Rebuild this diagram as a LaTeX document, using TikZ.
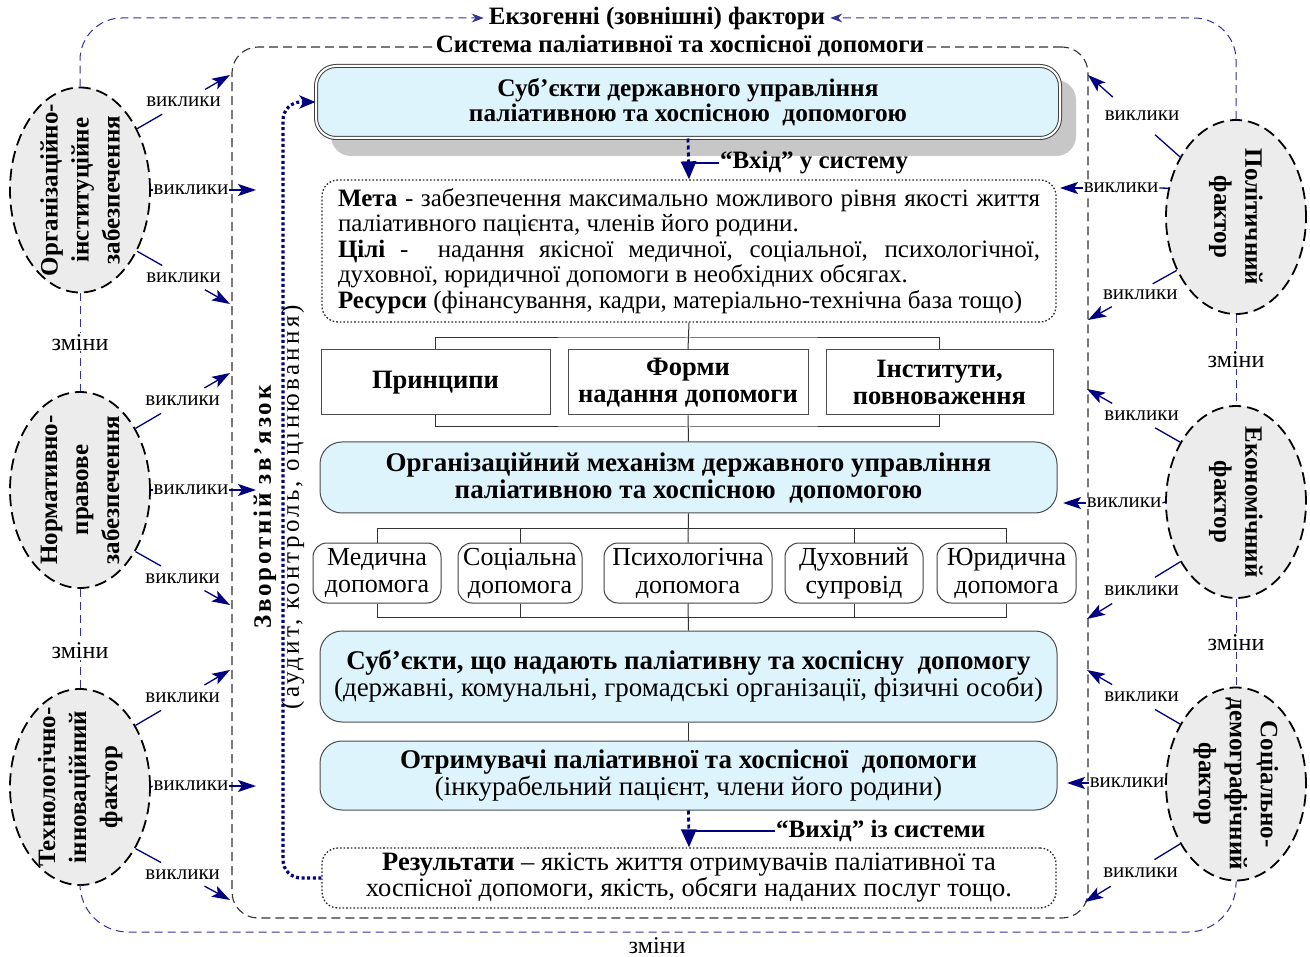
\documentclass[tikz,border=0pt]{standalone}
\usepackage{fontspec}
\setmainfont{Liberation Serif}
\usetikzlibrary{arrows.meta,shapes.geometric,calc}
\definecolor{navy}{RGB}{0,0,128}
\definecolor{dblue}{RGB}{50,50,150}
\definecolor{lblue}{RGB}{222,244,253}
\definecolor{egray}{RGB}{236,236,236}
\newcommand\fsz[2]{\fontsize{#1}{#2}\selectfont}
\newcommand\vkDiag[4][]{%
  \draw[vline] (#2) -- ($(#2)!0.27!(#3)$);
  \draw[varrow] ($(#2)!0.73!(#3)$) -- (#3);
  \node[vk,#1] (#4) at ($(#2)!0.5!(#3)$) {виклики};}
\begin{document}
\begin{tikzpicture}[x=1pt,y=-1pt,
  ell/.style={ellipse, draw=black, fill=egray, line width=1.8pt, dash pattern=on 12pt off 6pt, minimum width=140pt, minimum height=200pt, inner sep=0pt},
  elltext/.style={font=\fsz{25}{31}\bfseries, align=center, inner sep=0pt},
  vk/.style={font=\fsz{21}{23}, fill=white, inner sep=1pt},
  zm/.style={font=\fsz{24}{26}, fill=white, inner sep=1pt},
  vline/.style={draw=navy, line width=1.3pt},
  varrow/.style={vline, -{Stealth[length=18pt,width=12pt,inset=4pt]}},
  exodash/.style={draw=dblue, line width=1pt, dash pattern=on 8pt off 5pt},
  sysframe/.style={draw=black!80, line width=1.1pt, dash pattern=on 9pt off 5pt, rounded corners=26pt},
  bluebox/.style={draw=black!70, line width=1pt, fill=lblue, rounded corners=22pt, align=center, font=\fsz{27}{27}},
  rectbox/.style={draw=black!70, line width=1pt, font=\fsz{26.5}{27}\bfseries, align=center, fill=white},
  smallbox/.style={draw=black!75, line width=1pt, rounded corners=14pt, align=center, font=\fsz{26}{28}, inner sep=1pt},
  dotbox/.style={draw=black!85, line width=1.3pt, dash pattern=on 1.6pt off 2pt, rounded corners=16pt},
  conn/.style={draw=black!80, line width=1pt},
  ioarrow/.style={draw=navy, line width=2.8pt, dash pattern=on 4pt off 3pt, -{Triangle[length=18pt,width=15pt]}},
  ioline/.style={draw=navy, line width=1.4pt},
  fbline/.style={draw=navy, line width=3.2pt, dash pattern=on 3pt off 2.6pt, rounded corners=18pt},
  boldlbl/.style={font=\fsz{25}{25}\bfseries, inner sep=1pt}
]
\useasboundingbox (0,0) rectangle (1310,957);

% ---------- system frame
\node[sysframe, minimum width=856pt, minimum height=871pt] (sys) at (660,482.5) {};
\node[boldlbl, fill=white, inner xsep=2pt] (systitle) at (680,46) {Система паліативної та хоспісної допомоги};

% ---------- exogenous factors title
\node[boldlbl] (exo) at (657,18) {Екзогенні (зовнішні) фактори};

% ---------- left ellipses
\node[ell, minimum height=205pt] (L1) at (80,190) {};
\node[elltext, rotate=90] (L1t) at (L1) {Організаційно-\\інституційне\\забезпечення};
\node[ell, minimum height=196pt] (L2) at (80,490) {};
\node[elltext, rotate=90] (L2t) at (L2) {Нормативно-\\правове\\забезпечення};
\node[ell, minimum height=196pt] (L3) at (80,787) {};
\node[elltext, rotate=90] (L3t) at (L3) {Технологічно-\\інноваційний\\фактор};

% ---------- right ellipses
\node[ell, minimum height=194pt] (R1) at (1236,217) {};
\node[elltext, rotate=-90] (R1t) at (R1) {Політичний\\фактор};
\node[ell, minimum height=192pt] (R2) at (1236,502) {};
\node[elltext, rotate=-90] (R2t) at (R2) {Економічний\\фактор};
\node[ell, minimum height=193pt] (R3) at (1236,784) {};
\node[elltext, rotate=-90] (R3t) at (R3) {Соціально-\\демографічний\\фактор};

% ---------- outer dashed links
\draw[exodash, rounded corners=42pt, -{Stealth[length=12pt,width=9pt]}, shorten >=4pt] (L1.north) |- (exo.west);
\draw[exodash, rounded corners=42pt, -{Stealth[length=12pt,width=9pt]}, shorten >=4pt] (R1.north) |- (exo.east);
\coordinate (botc) at (657,932);
\draw[exodash, rounded corners=48pt] (L3.south) |- (botc) -| (R3.south);
\node[zm] (zb) at (657,946) {зміни};
\draw[exodash] (L1.south) -- node[zm] (zl1) {зміни} (L2.north);
\draw[exodash] (L2.south) -- node[zm, yshift=-12pt] (zl2) {зміни} (L3.north);
\draw[exodash] (R1.south) -- node[zm] (zr1) {зміни} (R2.north);
\draw[exodash] (R2.south) -- node[zm] (zr2) {зміни} (R3.north);

% ---------- challenges: left
\coordinate (tl1a) at (230,75);  \coordinate (tl1b) at (256,190); \coordinate (tl1c) at (230,304);
\coordinate (tl2a) at (230,373); \coordinate (tl2b) at (256,490); \coordinate (tl2c) at (230,605);
\coordinate (tl3a) at (230,670); \coordinate (tl3b) at (256,786); \coordinate (tl3c) at (230,900);
\vkDiag{L1.47}{tl1a}{vl1a}
\vkDiag{L1.-47}{tl1c}{vl1c}
\vkDiag{L2.48}{tl2a}{vl2a}
\vkDiag{L2.-48}{tl2c}{vl2c}
\vkDiag{L3.48}{tl3a}{vl3a}
\vkDiag{L3.-48}{tl3c}{vl3c}
\node[vk] (vl1b) at (191,190) {виклики};
\draw[vline] (L1.east) -- (vl1b.west); \draw[varrow] (vl1b.east) -- (tl1b);
\node[vk] (vl2b) at (191,490) {виклики};
\draw[vline] (L2.east) -- (vl2b.west); \draw[varrow] (vl2b.east) -- (tl2b);
\node[vk] (vl3b) at (191,786) {виклики};
\draw[vline] (L3.east) -- (vl3b.west); \draw[varrow] (vl3b.east) -- (tl3b);

% ---------- challenges: right
\coordinate (tr1a) at (1088,75);  \coordinate (tr1b) at (1060,188); \coordinate (tr1c) at (1088,320);
\coordinate (tr2a) at (1087,389); \coordinate (tr2b) at (1063,503); \coordinate (tr2c) at (1087,619);
\coordinate (tr3a) at (1087,670); \coordinate (tr3b) at (1067,783); \coordinate (tr3c) at (1085,902);
\vkDiag[xshift=8pt]{R1.133}{tr1a}{vr1a}
\vkDiag[xshift=8pt]{R1.222}{tr1c}{vr1c}
\vkDiag[xshift=8pt]{R2.133}{tr2a}{vr2a}
\vkDiag[xshift=8pt]{R2.227}{tr2c}{vr2c}
\vkDiag[xshift=8pt]{R3.133}{tr3a}{vr3a}
\vkDiag[xshift=8pt]{R3.227}{tr3c}{vr3c}
\node[vk] (vr1b) at (1121,188) {виклики};
\draw[vline] (R1.157) -- (vr1b.east); \draw[varrow] (vr1b.west) -- (tr1b);
\node[vk] (vr2b) at (1124,503) {виклики};
\draw[vline] (R2.west) -- (vr2b.east); \draw[varrow] (vr2b.west) -- (tr2b);
\node[vk] (vr3b) at (1127,783) {виклики};
\draw[vline] (R3.west) -- (vr3b.east); \draw[varrow] (vr3b.west) -- (tr3b);

% ---------- top box with shadow
\fill[black!22, rounded corners=20pt] (331,80) rectangle (1076,156);
\node[bluebox, draw=black!75, double=white, double distance=2pt, line width=1pt, rounded corners=20pt,
      minimum width=744pt, minimum height=72pt, font=\fsz{25.3}{25.5}] (sub) at (688,102)
  {\textbf{Суб’єкти державного управління}\\\textbf{паліативною та хоспісною\ \ допомогою}};

% ---------- goal box
\node[dotbox, minimum width=734pt, minimum height=142pt, align=left, font=\fsz{25}{25.5}, inner sep=0pt] (meta) at (689,251) {%
\makebox[702pt][s]{\textbf{Мета} - забезпечення максимально можливого рівня якості життя}\\
\makebox[702pt][l]{паліативного пацієнта, членів його родини.}\\
\makebox[702pt][s]{\textbf{Цілі} -\ \ надання якісної медичної, соціальної, психологічної,}\\
\makebox[702pt][l]{духовної, юридичної допомоги в необхідних обсягах.}\\
\makebox[702pt][l]{\textbf{Ресурси} (фінансування, кадри, матеріально-технічна база тощо)}};

% input arrow
\draw[ioarrow] (sub.south) -- (meta.north);
\node[boldlbl, anchor=west] (vin) at (719,163) {“Вхід” у систему};
\draw[ioline] (vin.west) -- (vin.west -| sub.south);

% ---------- three boxes
\node[rectbox, minimum width=229pt, minimum height=65pt] (pr) at (435.5,382.5) {Принципи};
\node[rectbox, minimum width=240pt, minimum height=65pt] (fm) at (688,382.5) {Форми\\надання допомоги};
\node[rectbox, minimum width=227pt, minimum height=65pt] (in) at (939.5,382.5) {Інститути,\\повноваження};
\coordinate (j1) at (688,338);
\coordinate (j2) at (688,427);
\draw[conn] (meta.south) -- (fm.north);
\draw[conn] (pr.north) |- (j1) -| (in.north);
\draw[conn] (pr.south) |- (j2) -| (in.south);

% ---------- mechanism
\node[bluebox, minimum width=737pt, minimum height=71pt] (mech) at (688.5,477.5)
  {\textbf{Організаційний механізм державного управління}\\\textbf{паліативною та хоспісною\ \ допомогою}};
\draw[conn] (fm.south) -- (mech.north);

% ---------- five boxes
\node[smallbox, minimum width=128pt, minimum height=60pt] (med) at (377,573) {Медична\\допомога};
\node[smallbox, minimum width=124pt, minimum height=60pt] (soc) at (520,573) {Соціальна\\допомога};
\node[smallbox, minimum width=168pt, minimum height=60pt] (psy) at (688,573) {Психологічна\\допомога};
\node[smallbox, minimum width=138pt, minimum height=60pt] (spi) at (854,573) {Духовний\\супровід};
\node[smallbox, minimum width=139pt, minimum height=60pt] (leg) at (1006.5,573) {Юридична\\допомога};
\coordinate (j3) at (688,528);
\coordinate (j4) at (688,617);
\draw[conn] (mech.south) -- (psy.north);
\draw[conn] (med.north) |- (j3) -| (leg.north);
\draw[conn] (soc.north) |- (j3);
\draw[conn] (spi.north) |- (j3);
\draw[conn] (med.south) |- (j4) -| (leg.south);
\draw[conn] (soc.south) |- (j4);
\draw[conn] (spi.south) |- (j4);

% ---------- providers
\node[bluebox, minimum width=737pt, minimum height=91pt] (prov) at (688.5,676.5)
  {\textbf{Суб’єкти, що надають паліативну та хоспісну\ \ допомогу}\\(державні, комунальні, громадські організації, фізичні особи)};
\draw[conn] (psy.south) -- (prov.north);

% ---------- recipients
\node[bluebox, minimum width=737pt, minimum height=69pt] (rec) at (688.5,775.5)
  {\textbf{Отримувачі паліативної та хоспісної\ \ допомоги}\\(інкурабельний пацієнт, члени його родини)};
\draw[conn] (prov.south) -- (rec.north);

% ---------- results
\node[dotbox, minimum width=734pt, minimum height=60pt, align=center, font=\fsz{26.5}{26}, inner sep=0pt] (res) at (689,878)
  {\textbf{Результати} – якість життя отримувачів паліативної та\\хоспісної допомоги, якість, обсяги наданих послуг тощо.};
\draw[ioarrow] (rec.south) -- (res.north);
\node[boldlbl, anchor=west] (vout) at (775,831) {“Вихід” із системи};
\draw[ioline] (vout.west) -- (vout.west -| rec.south);

% ---------- feedback
\coordinate (fbx) at (283,500);
\draw[fbline, -{Stealth[length=16pt,width=13pt,inset=4pt]}] (res.west) -- (res.west -| fbx) -- (sub.west -| fbx) -- (sub.west);
\node[rotate=90, align=center, font=\fsz{25}{28}, inner sep=0pt] (fbl) at (279,507)
  {{\bfseries\addfontfeatures{LetterSpace=11}Зворотній зв’язок}\\{\addfontfeatures{LetterSpace=13}(аудит, контроль, оцінювання)}};
\end{tikzpicture}
\end{document}
